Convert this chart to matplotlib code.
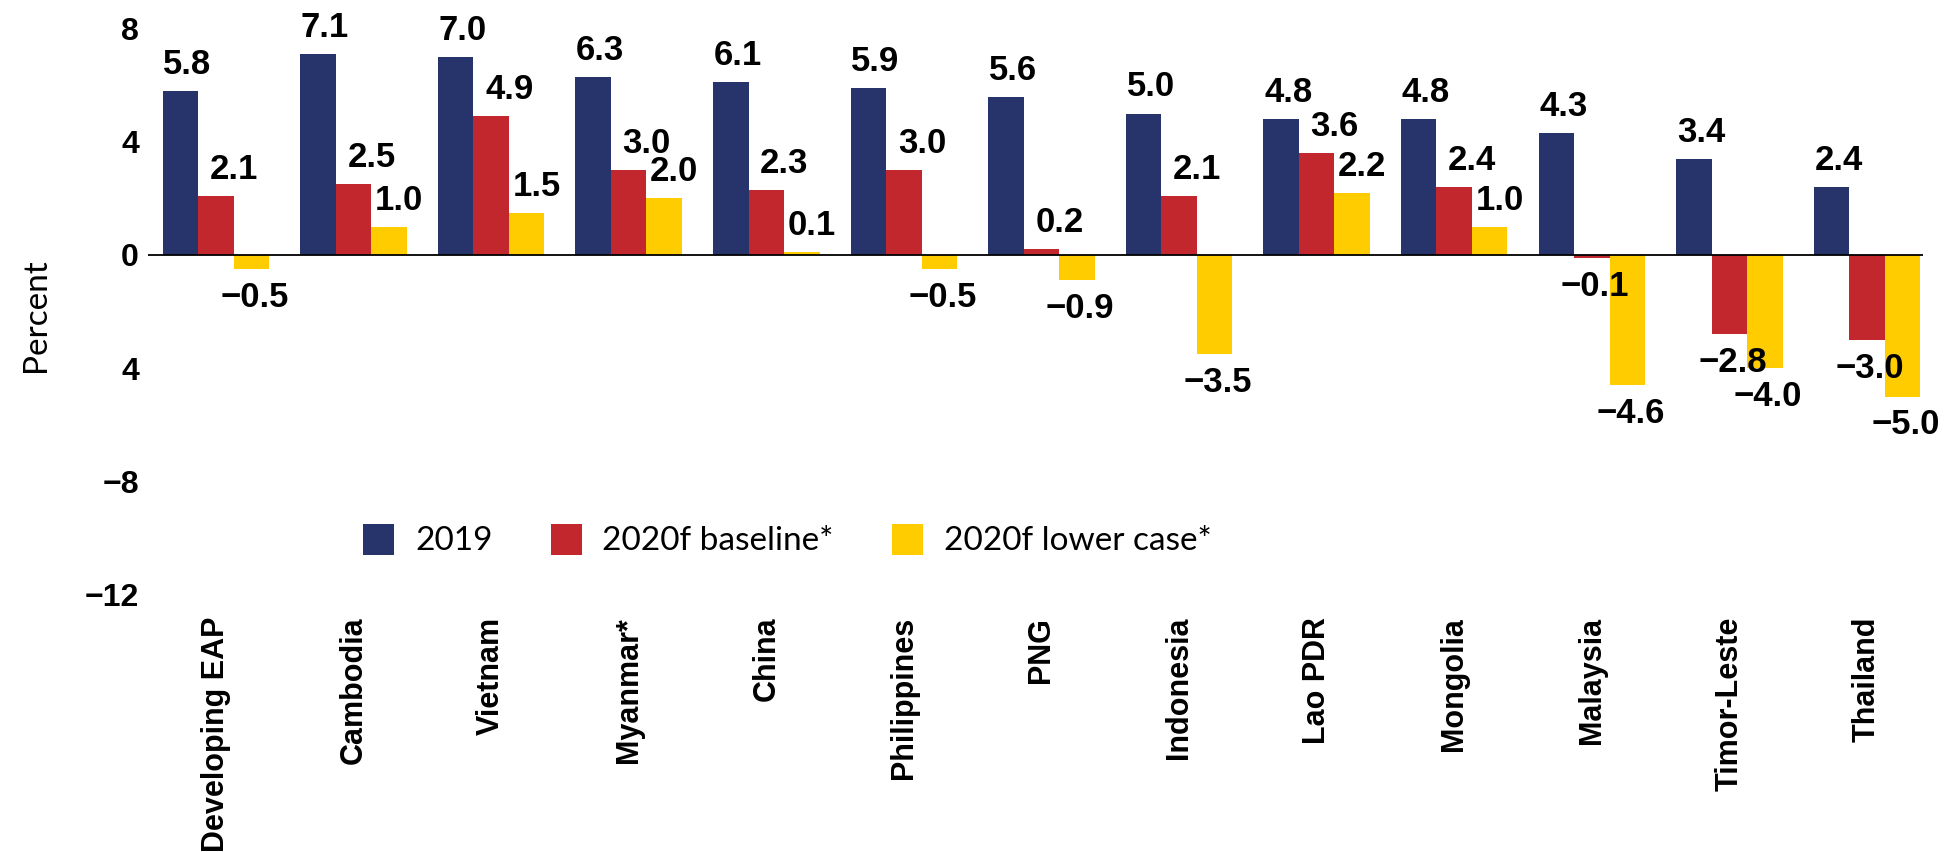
import matplotlib
matplotlib.use("Agg")
import matplotlib.pyplot as plt
from matplotlib import font_manager
from matplotlib.patches import Patch
import numpy as np

# ---------------- data ----------------
categories = ["Developing EAP", "Cambodia", "Vietnam", "Myanmar*", "China",
              "Philippines", "PNG", "Indonesia", "Lao PDR", "Mongolia",
              "Malaysia", "Timor-Leste", "Thailand"]
v2019 = [5.8, 7.1, 7.0, 6.3, 6.1, 5.9, 5.6, 5.0, 4.8, 4.8, 4.3, 3.4, 2.4]
v2020_base = [2.1, 2.5, 4.9, 3.0, 2.3, 3.0, 0.2, 2.1, 3.6, 2.4, -0.1, -2.8, -3.0]
v2020_low = [-0.5, 1.0, 1.5, 2.0, 0.1, -0.5, -0.9, -3.5, 2.2, 1.0, -4.6, -4.0, -5.0]
series_names = ["2019", "2020f baseline*", "2020f lower case*"]
y_ticks = [8, 4, 0, -4, -8, -12]
y_tick_labels = ["8", "4", "0", "4", "\u22128", "\u221212"]

colors = ["#26346B", "#C1272D", "#FFCC00"]


def has_font(name):
    try:
        font_manager.findfont(font_manager.FontProperties(family=name),
                              fallback_to_default=False)
        return True
    except Exception:
        return False


bold_font = "Liberation Sans"
if has_font("Liberation Sans Narrow"):
    xlab_font, xlab_size = "Liberation Sans Narrow", 26.5
else:
    xlab_font, xlab_size = "Liberation Sans", 22
light_font = "Lato" if has_font("Lato") else "DejaVu Sans"

W, H = 1949, 852
fig = plt.figure(figsize=(W / 100, H / 100), dpi=100)
ax_left, ax_right = 148 / W, 1923 / W
ax_top, ax_bottom = 1 - 28.6 / H, 1 - 594.6 / H
ax = fig.add_axes([ax_left, ax_bottom, ax_right - ax_left, ax_top - ax_bottom])

x = np.arange(len(categories))
w = 0.258
all_series = [v2019, v2020_base, v2020_low]
pos_shift = [7, 18, 10]
for j, (vals, col) in enumerate(zip(all_series, colors)):
    xs = x + (j - 1) * w
    ax.bar(xs, vals, width=w, color=col, zorder=2, linewidth=0)
    for xi, v in zip(xs, vals):
        txt = f"{v:.1f}".replace("-", "\u2212")
        if v >= 0:
            ax.annotate(txt, (xi, v), xytext=(pos_shift[j], 17),
                        textcoords="offset pixels", ha="center", va="baseline",
                        fontsize=25, fontweight="bold", family=bold_font,
                        zorder=4)
        else:
            ax.annotate(txt, (xi, v), xytext=(3, -12),
                        textcoords="offset pixels", ha="center", va="top",
                        fontsize=25, fontweight="bold", family=bold_font,
                        zorder=4)

ax.axhline(0, color="black", lw=1.3, zorder=3)
ax.set_xlim(-0.494, len(categories) - 1 + 0.407)
ax.set_ylim(-12, 8)
for s in ax.spines.values():
    s.set_visible(False)

ax.set_yticks(y_ticks)
ax.set_yticklabels(y_tick_labels, fontsize=23, fontweight="bold", family=bold_font)
ax.set_xticks(x)
ax.set_xticklabels(categories, rotation=90, fontsize=xlab_size,
                   fontweight="bold", family=xlab_font)
ax.tick_params(axis="y", length=0, pad=6.5)
ax.tick_params(axis="x", length=0, pad=16)

fig.text(36 / W, 1 - 315 / H, "Percent", rotation=90, ha="center", va="center",
         fontsize=24, family=light_font)

handles = [Patch(facecolor=c, edgecolor="none") for c in colors]
fs = 24
fig.legend(handles, series_names, loc="center left",
           bbox_to_anchor=(363 / W, 1 - 540 / H), ncol=3, frameon=False,
           prop={"family": light_font, "size": fs},
           handlelength=0.93, handleheight=1.054, handletextpad=0.63,
           columnspacing=1.74, borderpad=0, borderaxespad=0)

fig.savefig("out.png", dpi=100)
